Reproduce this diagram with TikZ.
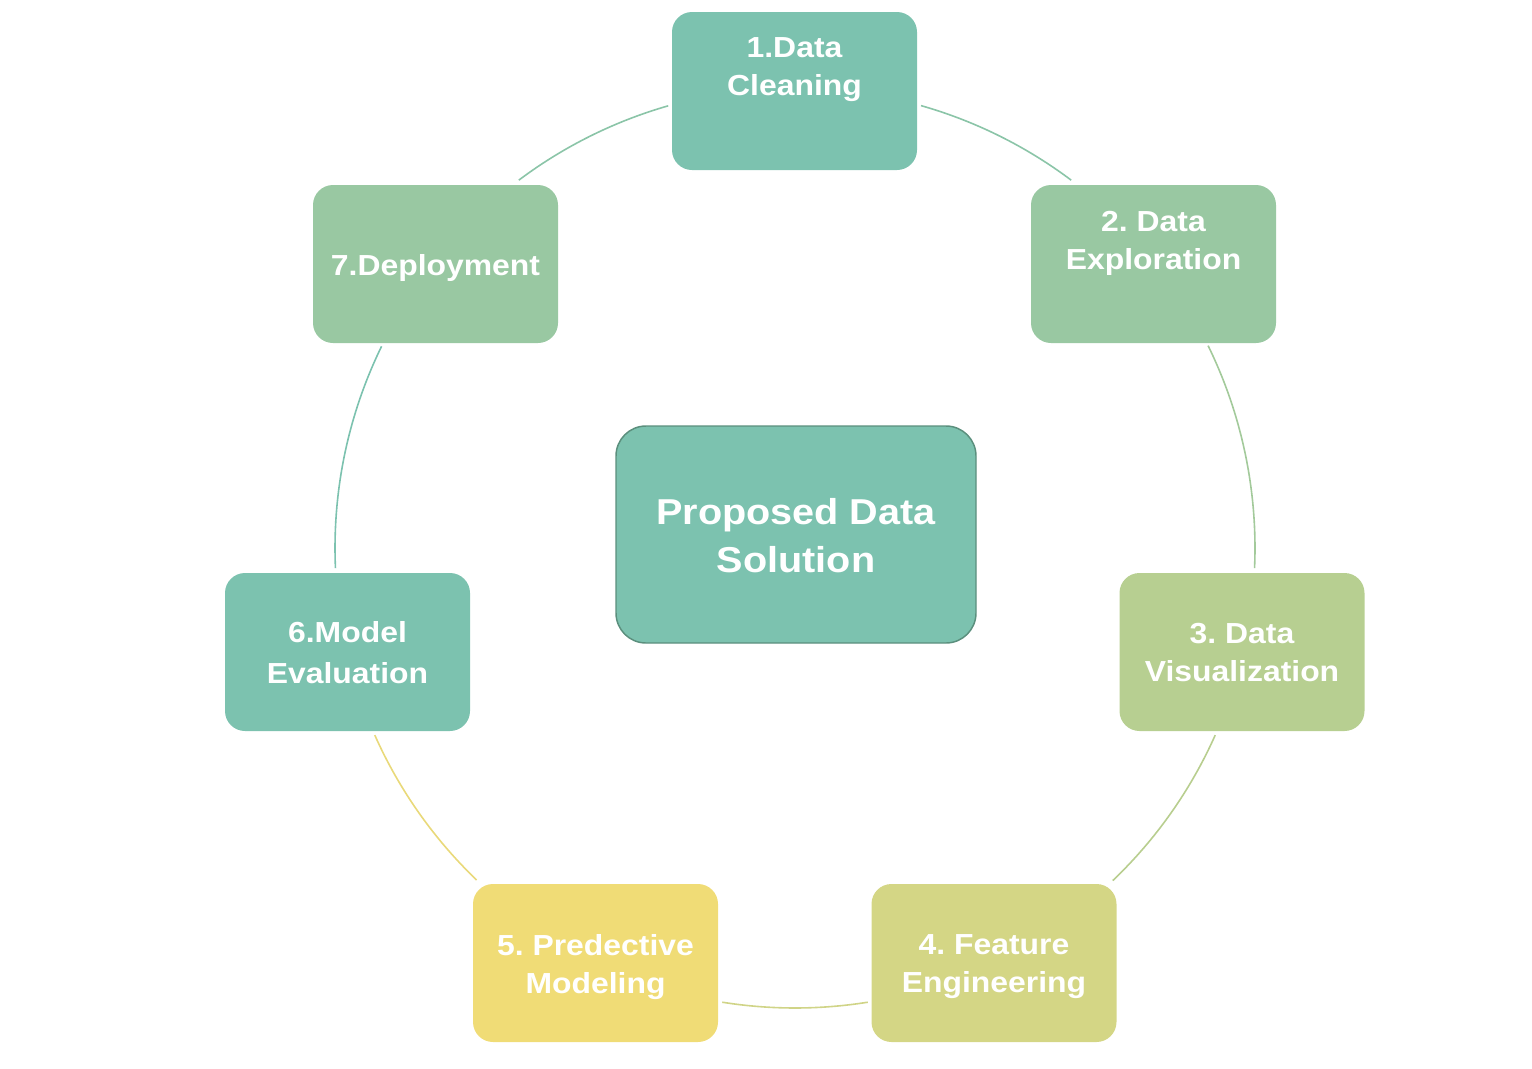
\documentclass[tikz,border=0pt]{standalone}
\usepackage{fontspec}
\setmainfont{Liberation Sans}[FakeStretch=1.1]
\usetikzlibrary{calc}
\frenchspacing
\definecolor{cTeal}{HTML}{7CC2AF}
\definecolor{cGreen}{HTML}{99C8A2}
\definecolor{cOlive}{HTML}{B7CF91}
\definecolor{cLime}{HTML}{D4D685}
\definecolor{cYellow}{HTML}{F0DC76}
\definecolor{cBorder}{HTML}{5B8F7D}
\definecolor{lA}{HTML}{8BC5A8}
\definecolor{lB}{HTML}{A3CA9B}
\definecolor{lC}{HTML}{B8CE8F}
\definecolor{lD}{HTML}{D0D487}
\definecolor{lE}{HTML}{E9D97A}
\definecolor{lF}{HTML}{7CC2AF}
\definecolor{lG}{HTML}{8BC5A8}
\begin{document}
\begin{tikzpicture}[x=0.75pt,y=-0.75pt,
  box/.style={draw=none, rounded corners=15pt, minimum width=183.75pt, minimum height=118.5pt, inner sep=0pt},
  boxtext/.style={text=white, font=\fontsize{21.75pt}{28.5pt}\selectfont\bfseries, align=center, inner sep=0pt},
  hubbox/.style={draw=cBorder, line width=1.1pt, fill=cTeal, rounded corners=22.5pt, minimum width=270pt, minimum height=162.75pt, inner sep=0pt},
  hubtext/.style={text=white, font=\fontsize{27pt}{36pt}\selectfont\bfseries, align=center, inner sep=0pt},
  link/.style={line width=1.2pt}]
\useasboundingbox (0,0) rectangle (1532,1068);
\coordinate (O) at (795,548);

% center
\node[hubbox] (hub) at (796,534.5) {};
\node[hubtext] (hubt) at (796,536) {Proposed Data\\Solution};

% boxes
\node[box, fill=cTeal]   (b1) at (794.5,91) {};
\node[boxtext] (t1) at (794.5,70) {1.Data\\Cleaning};
\node[box, fill=cGreen]  (b2) at (1153.5,264) {};
\node[boxtext] (t2) at (1153.5,243) {2. Data\\Exploration};
\node[box, fill=cOlive]  (b3) at (1242,652) {};
\node[boxtext] (t3) at (1242,653) {3. Data\\Visualization};
\node[box, fill=cLime]   (b4) at (994,963) {};
\node[boxtext] (t4) at (994,967) {4. Feature\\Engineering};
\node[box, fill=cYellow] (b5) at (595.5,963) {};
\node[boxtext] (t5) at (595.5,967) {5. Predective\\Modeling};
\node[box, fill=cTeal]   (b6) at (347.5,652) {};
\node[boxtext] (t6) at (347.5,652.5) {6.Model\\[2.25pt]Evaluation};
\node[box, fill=cGreen]  (b7) at (435.5,264) {};
\node[boxtext] (t7) at (435.5,268) {7.Deployment};

% arc start points on the ring
\coordinate (s12) at ([shift={(74.1:345pt)}]O);
\coordinate (s23) at ([shift={(26.1:345pt)}]O);
\coordinate (s34) at ([shift={(-24.0:345pt)}]O);
\coordinate (s45) at ([shift={(-80.9:345pt)}]O);
\coordinate (s56) at ([shift={(-133.8:345pt)}]O);
\coordinate (s67) at ([shift={(-177.5:345pt)}]O);
\coordinate (s71) at ([shift={(126.9:345pt)}]O);

\draw[link, draw=lA] (s12) arc[start angle=74.1, end angle=53.1, radius=345pt];
\draw[link, draw=lB] (s23) arc[start angle=26.1, end angle=-2.5, radius=345pt];
\draw[link, draw=lC] (s34) arc[start angle=-24.0, end angle=-46.3, radius=345pt];
\draw[link, draw=lD] (s45) arc[start angle=-80.9, end angle=-99.1, radius=345pt];
\draw[link, draw=lE] (s56) arc[start angle=-133.8, end angle=-156.0, radius=345pt];
\draw[link, draw=lF] (s67) arc[start angle=-177.5, end angle=-206.0, radius=345pt];
\draw[link, draw=lG] (s71) arc[start angle=126.9, end angle=106.0, radius=345pt];
\end{tikzpicture}
\end{document}
